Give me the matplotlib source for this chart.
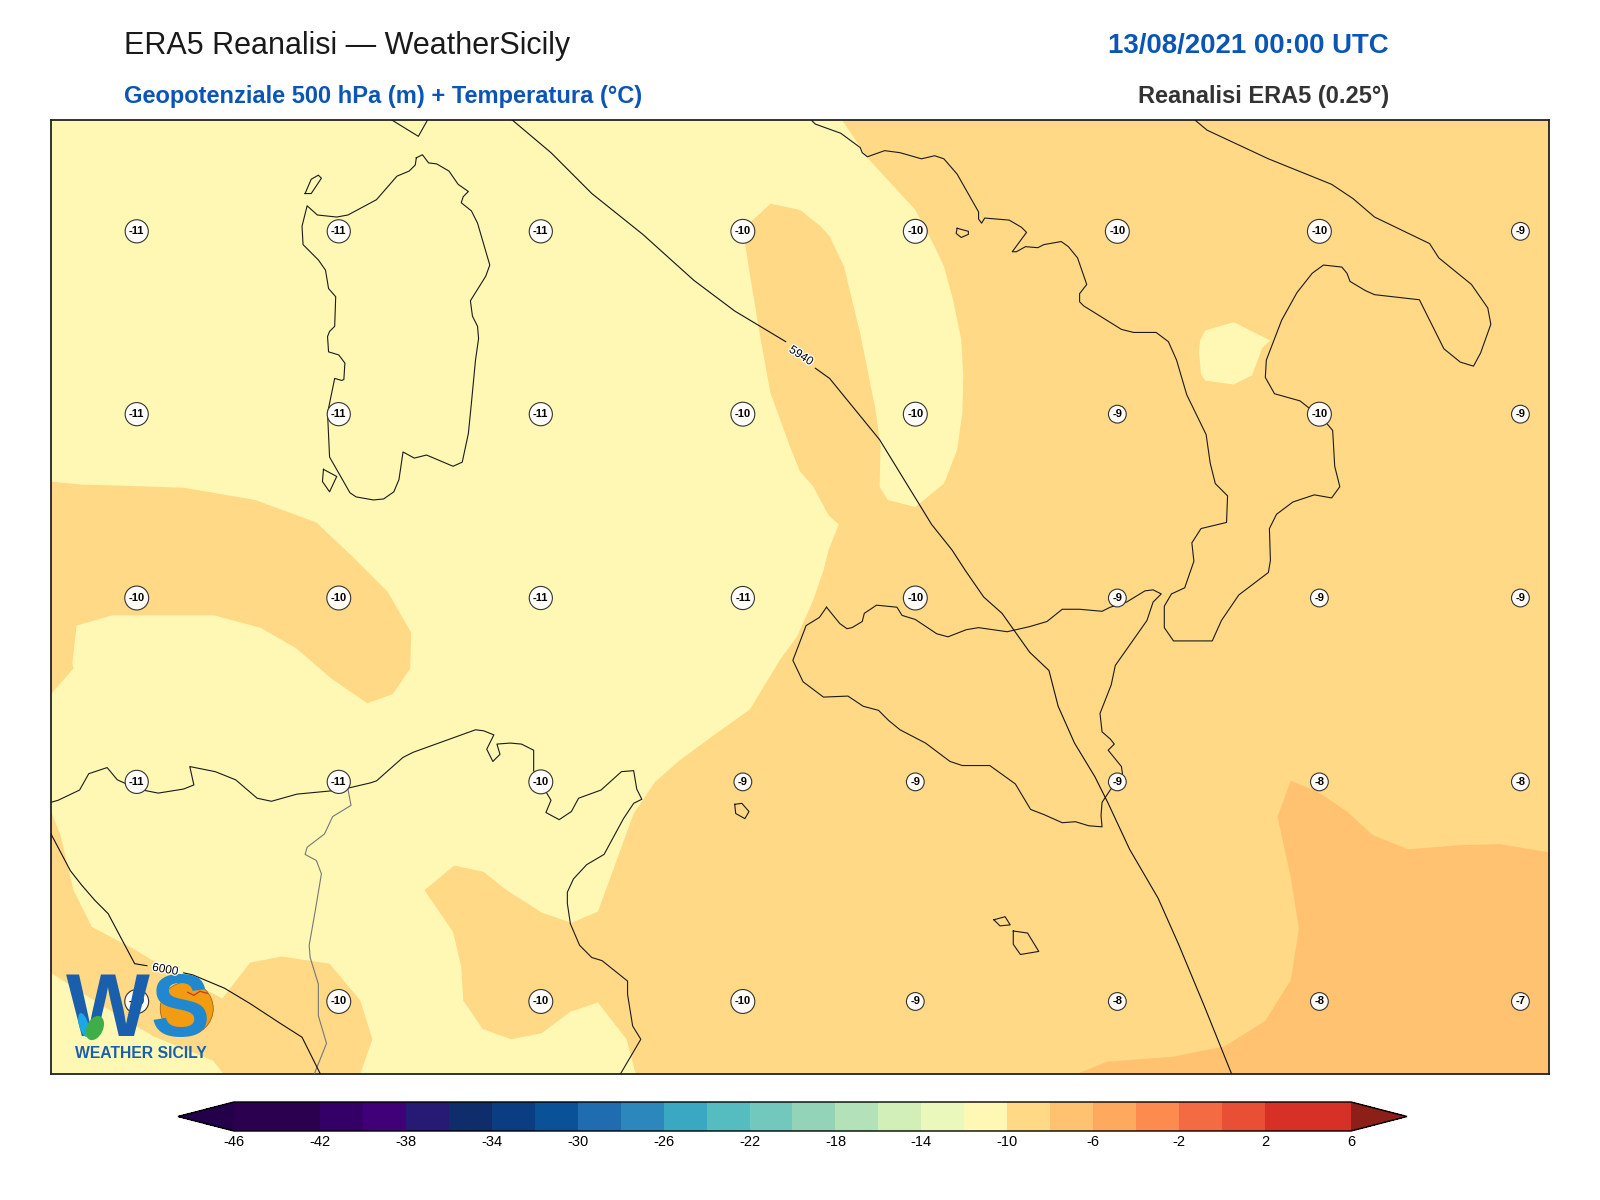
import matplotlib
matplotlib.use("Agg")
import matplotlib.pyplot as plt
import matplotlib.patheffects as pe
from matplotlib.colors import BoundaryNorm, ListedColormap
from matplotlib.cm import ScalarMappable
from matplotlib.patches import Circle, Ellipse

plt.rcParams["font.family"] = ["Liberation Sans", "DejaVu Sans"]
plt.rcParams["axes.unicode_minus"] = False

# colour scale, one colour per 2 degree band
LEVELS = list(range(-46, 8, 2))
TICKS = list(range(-46, 8, 4))
BAND_COLORS = [
    "#2a004f", "#2a004f", "#340068", "#400078", "#261a75", "#0f2d6b", "#0b3d82",
    "#0a5298", "#1f6cb0", "#2c88bc", "#3aa8c3", "#55bcc0", "#72c8bd", "#93d4b9",
    "#b3e2b8", "#d3efb8", "#ebf8bb", "#fff8b4", "#ffd985", "#fec271", "#fea95e",
    "#fd8a4f", "#f46a43", "#e84f35", "#d73027", "#d73027",
]
UNDER_COLOR = "#24004a"
OVER_COLOR = "#8c1f17"

# all map geometry below is in map units (x right, y down)
X_RANGE = (50, 1518)
Y_RANGE = (1052, 118)

# temperature bands
T_BG = -11
T_MAIN = [(825,118),(851,156),(897,206),(915,240),(925,261),(934,294),(942,333),(944,369),(943,405),(938,441),
          (925,474),(897,497),(870,490),(862,477),(863,438),(858,402),(843,327),(827,261),(813,232),(804,222),
          (784,206),(755,200),(728,225),(735,270),(745,330),(755,385),(775,440),(784,462),(797,477),(812,505),
          (822,514),(812,539),(807,559),(797,588),(781,624),(764,647),(735,695),(700,720),(666,745),(642,766),
          (621,797),(586,893),(560,904),(531,894),(495,871),(474,854),(445,848),(416,872),(444,913),(452,947),
          (454,980),(473,1008),(501,1018),(531,1012),(559,991),(586,982),(614,1018),(623,1052),(1518,1052),(1518,118)]
T_WEST = [(50,472),(80,475),(120,476),(180,478),(250,490),(310,512),(345,545),(380,580),(403,620),(402,655),
          (385,680),(360,689),(325,665),(290,635),(255,615),(210,603),(160,603),(110,603),(75,613),(71,650),
          (72,655),(50,680)]
T_SW = [(50,795),(59,817),(72,872),(82,892),(90,908),(130,929),(173,955),(218,978),(245,943),(276,937),(323,944),
        (353,980),(365,1018),(353,1052),(219,1052),(209,1039),(150,1015),(100,985),(50,953)]
T_HOLE = [(1176,334),(1181,324),(1209,316),(1245,334),(1237,341),(1227,368),(1209,377),(1181,373),(1177,367),(1175,345)]
T_SE = [(1265,765),(1290,775),(1320,795),(1345,818),(1380,832),(1430,828),(1470,827),(1518,835),(1518,1052),
        (1055,1052),(1085,1040),(1150,1035),(1200,1025),(1240,1000),(1265,960),(1273,910),(1265,860),(1252,800)]

# coastlines
SARDINIA = [(408,155),(414,152),(420,160),(428,161),(440,168),(449,181),(459,188),(454,193),(452,199),(462,207),
            (468,219),(480,260),(476,271),(461,295),(463,310),(468,320),(469,332),(466,353),(462,395),(459,425),
            (453,453),(444,457),(418,446),(406,449),(395,443),(391,470),(386,482),(376,489),(366,490),(349,487),
            (343,483),(323,448),(321,405),(328,371),(335,373),(337,372),(338,356),(332,348),(322,345),(321,330),
            (323,325),(328,320),(329,291),(322,283),(319,265),(312,255),(297,240),(296,222),(301,202),(311,211),
            (330,213),(341,211),(369,196),(389,173),(401,168),(407,162),(408,155)]
CORSICA = [(384,118),(410,134),(419,118)]
ITALY = [(795,118),(799,122),(824,131),(843,145),(845,150),(850,154),(867,148),(882,150),(903,156),(916,153),
         (925,156),(938,171),(959,208),(959,215),(962,219),(965,214),(989,216),(1001,223),(1006,228),(992,247),
         (996,247),(1005,242),(1017,243),(1023,240),(1040,237),(1047,242),(1056,253),(1065,279),(1058,288),(1058,296),
         (1062,300),(1099,323),(1111,326),(1133,326),(1145,335),(1153,353),(1163,387),(1182,426),(1186,454),(1191,474),
         (1203,486),(1202,512),(1177,518),(1168,532),(1170,550),(1161,576),(1148,582),(1141,594),(1141,615),(1150,628),
         (1188,628),(1197,608),(1214,583),(1243,561),(1245,549),(1244,518),(1251,504),(1267,492),(1288,485),(1305,488),
         (1313,477),(1308,457),(1306,422),(1301,416),(1293,408),(1274,393),(1249,386),(1240,370),(1241,353),(1256,314),
         (1271,287),(1286,268),(1297,260),(1315,262),(1320,268),(1323,276),(1338,285),(1347,289),(1391,294),(1415,342),
         (1431,355),(1444,359),(1451,346),(1461,318),(1458,302),(1442,279),(1410,253),(1401,239),(1347,213),(1326,195),
         (1305,181),(1243,156),(1183,128),(1171,118)]
SICILY = [(810,595),(823,611),(830,616),(835,615),(845,609),(847,601),(859,593),(879,595),(884,603),(897,607),
          (918,621),(929,624),(947,617),(959,615),(987,619),(1009,614),(1026,609),(1041,597),(1058,597),(1080,599),
          (1088,595),(1104,590),(1122,579),(1130,578),(1138,582),(1130,590),(1124,608),(1093,652),(1089,671),(1078,699),
          (1080,717),(1088,724),(1092,729),(1086,735),(1099,751),(1100,758),(1088,774),(1080,786),(1079,799),(1080,810),
          (1067,809),(1054,805),(1041,806),(1023,798),(1010,793),(995,768),(970,750),(943,750),(931,746),(907,728),
          (882,715),(871,706),(861,696),(846,692),(831,682),(807,683),(787,668),(777,647),(790,613),(803,605),(810,595)]
TUNISIA = [(50,786),(57,784),(78,774),(87,758),(105,752),(115,764),(135,773),(155,777),(180,773),(190,769),
           (186,751),(211,756),(231,764),(252,782),(266,785),(291,778),(333,774),(363,767),(369,765),(395,742),
           (405,737),(466,715),(474,716),(484,720),(477,734),(483,746),(490,739),(487,729),(500,728),(511,729),
           (523,735),(523,755),(531,769),(540,784),(535,796),(548,803),(560,795),(567,782),(589,774),(609,756),
           (621,755),(624,773),(629,783),(621,787),(611,802),(592,837),(575,847),(562,861),(556,874),(556,885),
           (559,905),(568,926),(580,938),(590,941),(615,961),(615,974),(620,1005),(628,1018),(608,1052)]
ISLANDS = [
    [(317,460),(330,467),(323,482),(316,472),(317,460)],
    [(299,190),(305,176),(312,172),(315,175),(305,190),(299,190)],
    [(938,224),(949,227),(949,230),(942,233),(937,229),(938,224)],
    [(720,788),(727,787),(734,795),(730,802),(721,797),(720,788)],
    [(993,912),(1007,914),(1018,932),(1000,935),(993,925),(993,912)],
    [(974,901),(985,898),(990,906),(980,907),(974,901)],
]
BORDER = [(341,773),(344,789),(326,800),(318,817),(301,830),(299,837),(310,843),(315,856),(309,892),(303,926),
          (304,938),(312,964),(312,995),(320,1022),(308,1052)]

# geopotential isolines, split where the label sits
Z5940_A = [(502,118),(540,150),(580,190),(630,230),(680,275),(720,305),(770,335)]
Z5940_B = [(799,361),(813,371),(862,431),(913,514),(933,539),(946,559),(964,585),(982,601),(1009,639),(1028,657),
           (1037,692),(1053,728),(1073,761),(1086,787),(1107,832),(1135,880),(1155,925),(1180,985),(1207,1052)]
Z6000_A = [(50,817),(69,853),(80,867),(93,882),(106,895),(132,944),(144,946)]
Z6000_B = [(180,953),(189,955),(220,968),(245,983),(274,1002),(296,1016),(314,1052)]

# temperature labels
LABEL_X = [134, 332, 530, 728, 897, 1095, 1293, 1490]
LABEL_Y = [227, 406, 586, 766, 981]
LABEL_VALUES = [
    [-11, -11, -11, -10, -10, -10, -10, -9],
    [-11, -11, -11, -10, -10, -9, -10, -9],
    [-10, -10, -11, -11, -10, -9, -9, -9],
    [-11, -11, -10, -9, -9, -9, -8, -8],
    [-10, -10, -10, -10, -9, -8, -8, -7],
]

cmap = ListedColormap(BAND_COLORS).with_extremes(under=UNDER_COLOR, over=OVER_COLOR)
norm = BoundaryNorm(LEVELS, cmap.N)

fig = plt.figure(figsize=(16, 12), dpi=100)
ax = fig.add_axes([51 / 1600, 1 - 1074 / 1200, 1498 / 1600, 954 / 1200])
ax.set_xlim(*X_RANGE)
ax.set_ylim(*Y_RANGE)
ax.set_xticks([])
ax.set_yticks([])
for s in ax.spines.values():
    s.set_linewidth(1.3)
    s.set_color("#222222")
ax.set_facecolor(cmap(norm(T_BG)))


def band(poly, value):
    xs, ys = zip(*poly)
    ax.fill(xs, ys, color=cmap(norm(value)), lw=0, zorder=1)


def line(pts, **kw):
    xs, ys = zip(*pts)
    ax.plot(xs, ys, **kw)


band(T_MAIN, -9)
band(T_WEST, -9)
band(T_SW, -9)
band(T_HOLE, -11)
band(T_SE, -7)

coast_style = dict(color="#1a1a1a", lw=0.8, zorder=3)
for part in [SARDINIA, CORSICA, ITALY, SICILY, TUNISIA] + ISLANDS:
    line(part, **coast_style)
line(BORDER, color="#777777", lw=0.8, zorder=3)

for part in [Z5940_A, Z5940_B, Z6000_A, Z6000_B]:
    line(part, color="#111111", lw=0.8, zorder=4)
halo = [pe.withStroke(linewidth=1.8, foreground="white")]
ax.text(785, 349, "5940", fontsize=8.5, rotation=-33, ha="center", va="center", zorder=4,
        rotation_mode="anchor", path_effects=halo)
ax.text(162, 950, "6000", fontsize=8.5, rotation=-10, ha="center", va="center", zorder=9,
        rotation_mode="anchor", path_effects=halo)

for row, y in zip(LABEL_VALUES, LABEL_Y):
    for val, x in zip(row, LABEL_X):
        ax.text(x, y, str(val), fontsize=8, fontweight="bold", ha="center", va="center", zorder=5,
                bbox=dict(boxstyle="circle,pad=0.35", fc=(1, 1, 1, 0.95), ec="#333333", lw=0.8))

# logo
ax.add_patch(Circle((183, 988), 26, fc="#f39c12", ec="#8a5a10", lw=0.5, zorder=6))
ax.text(106, 992, "W", fontsize=64, fontweight="bold", color="#1a5fae", ha="center", va="center", zorder=7)
ax.text(177, 992, "S", fontsize=64, fontweight="bold", color="#2188d0", ha="center", va="center", zorder=7)
ax.add_patch(Ellipse((82, 1004), 9, 24, angle=-15, fc="#1ea7e8", ec="none", zorder=8))
ax.add_patch(Ellipse((93, 1007), 16, 25, angle=25, fc="#3fae49", ec="none", zorder=8))
line([(184, 972), (190, 975), (196, 971), (203, 973)], color="#c0392b", lw=0.9, zorder=8)
ax.text(138, 1032, "WEATHER SICILY", fontsize=11.3, fontweight="bold", color="#1a5fae",
        ha="center", va="center", zorder=7)

# headers
fig.text(124 / 1600, 1 - 46 / 1200, "ERA5 Reanalisi \u2014 WeatherSicily", fontsize=22, color="#1a1a1a", va="center")
fig.text(124 / 1600, 1 - 97 / 1200, "Geopotenziale 500 hPa (m) + Temperatura (\u00b0C)", fontsize=17,
         fontweight="bold", color="#0a55b5", va="center")
fig.text(1389 / 1600, 1 - 46 / 1200, "13/08/2021 00:00 UTC", fontsize=19.9, fontweight="bold", color="#0a55b5",
         ha="right", va="center")
fig.text(1389 / 1600, 1 - 97 / 1200, "Reanalisi ERA5 (0.25\u00b0)", fontsize=17, fontweight="bold",
         color="#333333", ha="right", va="center")

# colorbar, extend triangles live inside the axes
cax = fig.add_axes([178 / 1600, 1 - 1131 / 1200, 1229 / 1600, 29 / 1200])
cb = fig.colorbar(ScalarMappable(norm=norm, cmap=cmap), cax=cax, orientation="horizontal",
                  extend="both", ticks=TICKS, extendfrac=0.05, spacing="proportional")
cb.ax.minorticks_off()
cb.ax.tick_params(labelsize=10.5, length=0, pad=3)
cb.outline.set_linewidth(1.0)

fig.savefig("out.png", dpi=100)
